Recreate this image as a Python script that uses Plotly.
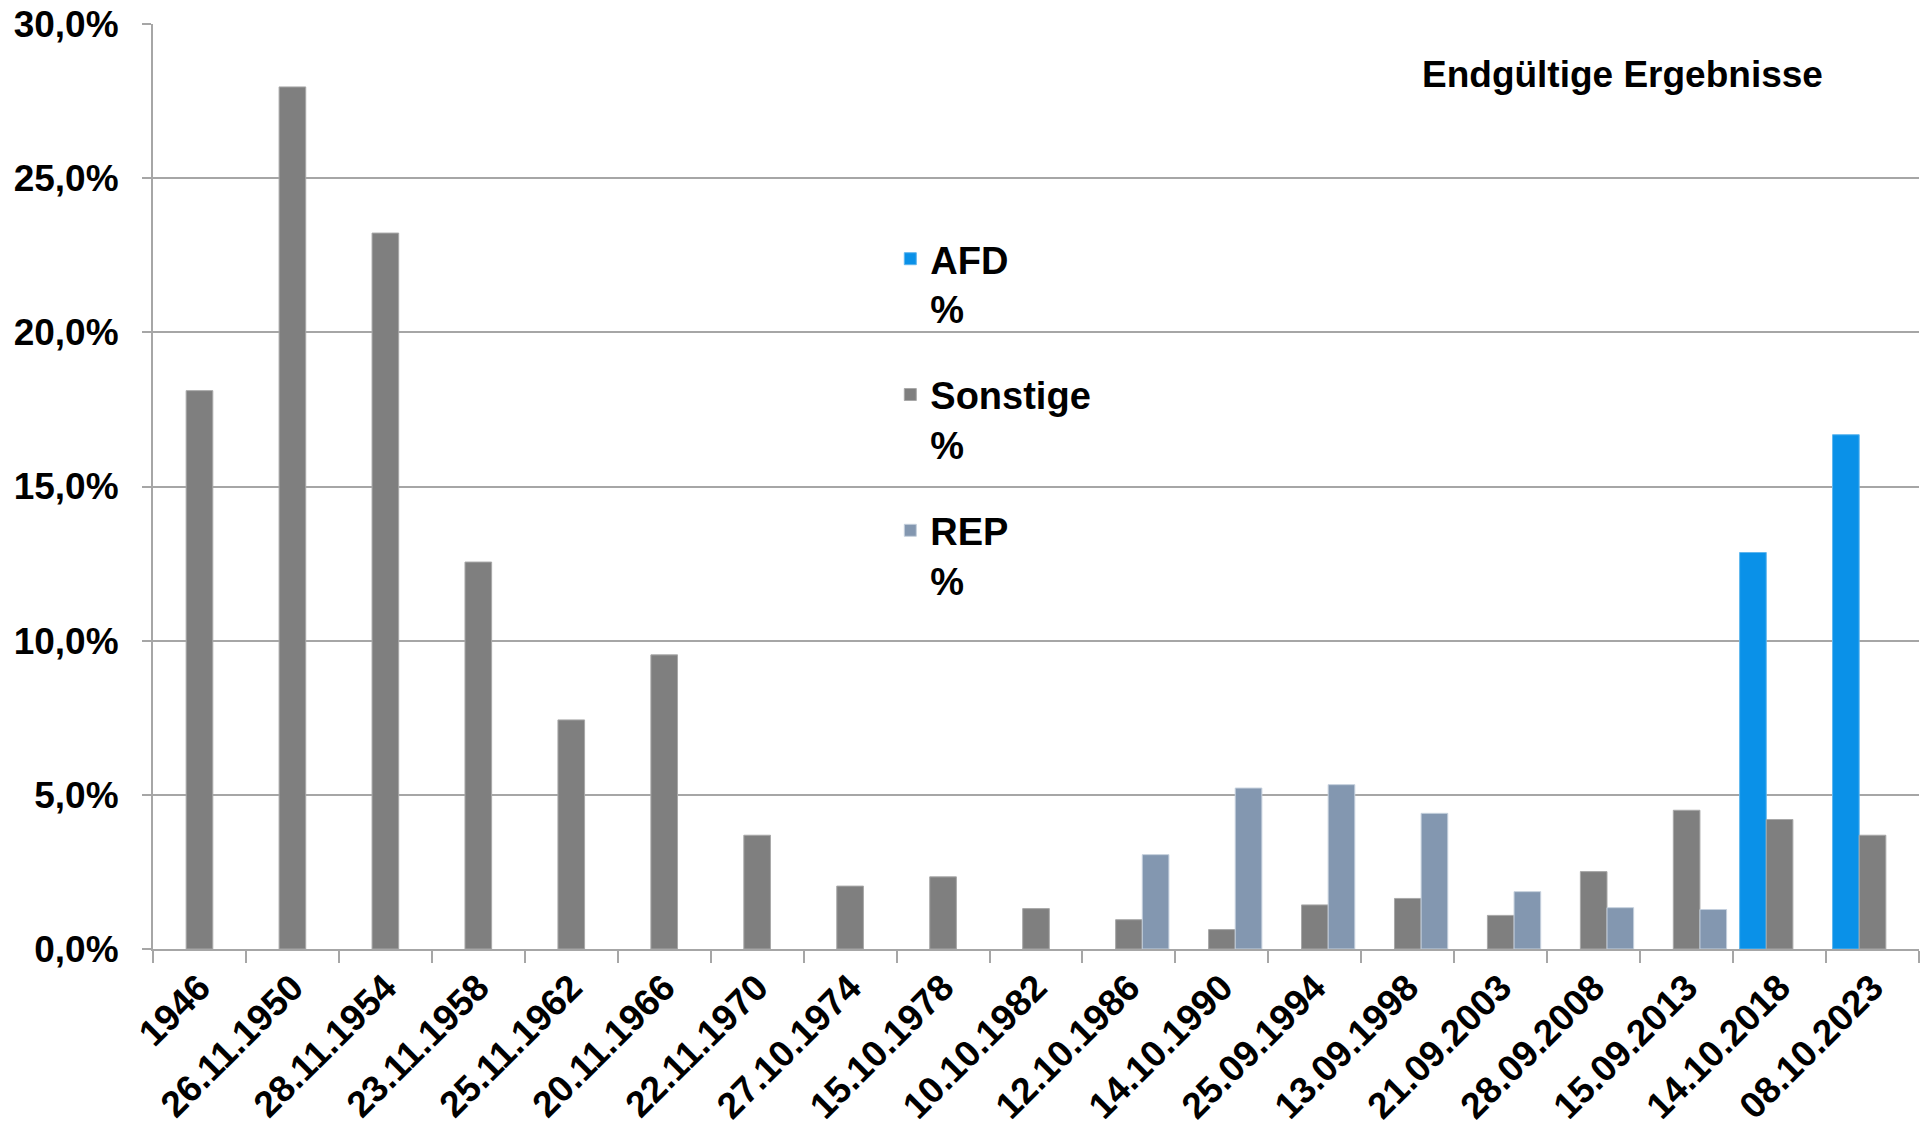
import plotly.graph_objects as go

categories = ["1946", "26.11.1950", "28.11.1954", "23.11.1958", "25.11.1962", "20.11.1966",
              "22.11.1970", "27.10.1974", "15.10.1978", "10.10.1982", "12.10.1986", "14.10.1990",
              "25.09.1994", "13.09.1998", "21.09.2003", "28.09.2008", "15.09.2013", "14.10.2018",
              "08.10.2023"]

afd = [None] * 17 + [12.86, 16.68]
sonstige = [18.11, 27.96, 23.22, 12.55, 7.43, 9.54, 3.69, 2.04, 2.34, 1.31, 0.95, 0.63,
            1.43, 1.64, 1.09, 2.51, 4.50, 4.20, 3.69]
rep = [None] * 10 + [3.06, 5.22, 5.33, 4.40, 1.86, 1.34, 1.28, None, None]

y_ticks = [0, 5, 10, 15, 20, 25, 30]
y_tick_labels = ["0,0%", "5,0%", "10,0%", "15,0%", "20,0%", "25,0%", "30,0%"]

series = [
    ("AFD<br>%", afd, "#0A91E8", "#5FB6EE"),
    ("Sonstige<br>%", sonstige, "#7F7F7F", "#A8A8A8"),
    ("REP<br>%", rep, "#8397B0", "#C5D0DD"),
]

FONT = "Liberation Sans, Arial, sans-serif"

fig = go.Figure()
for i, (name, vals, col, lcol) in enumerate(series):
    fig.add_trace(go.Bar(
        x=categories, y=vals, name=name,
        marker=dict(color=col, line=dict(color=lcol, width=1)),
        legendgroup=f"g{i}",
    ))

fig.update_layout(
    width=1925, height=1130,
    margin=dict(l=153, r=6, t=24, b=181, autoexpand=False),
    paper_bgcolor="white", plot_bgcolor="white",
    barmode="group", bargap=0.14, bargroupgap=0,
    font=dict(family=FONT, color="black", size=37, weight="bold"),
    showlegend=True,
    legend=dict(
        x=0.4175, y=0.78, xanchor="left", yanchor="top",
        valign="top", tracegroupgap=34, traceorder="grouped",
        font=dict(family=FONT, size=38, color="black", weight="bold"),
        bgcolor="rgba(0,0,0,0)",
    ),
    xaxis=dict(
        type="category", tickangle=-45, automargin=False,
        tickfont=dict(family=FONT, size=37, color="black", weight="bold"),
        showline=True, linecolor="#A6A6A6", linewidth=2,
        ticks="outside", tickson="boundaries", ticklen=12, tickcolor="#A6A6A6", tickwidth=2,
        showgrid=False, ticklabeloverflow="allow",
    ),
    yaxis=dict(
        range=[0, 30.001], tickvals=y_ticks, ticktext=y_tick_labels, automargin=False,
        tickfont=dict(family=FONT, size=37, color="black", weight="bold"),
        showline=True, linecolor="#A6A6A6", linewidth=2,
        ticks="outside", ticklen=9, tickcolor="#A6A6A6", tickwidth=2,
        showgrid=True, gridcolor="#A6A6A6", gridwidth=1.5,
        zeroline=False, ticklabelstandoff=16, ticklabeloverflow="allow",
    ),
    annotations=[dict(
        text="Endgültige Ergebnisse", xref="paper", yref="paper",
        x=0.832, y=0.945, xanchor="center", yanchor="middle", showarrow=False,
        font=dict(family=FONT, size=37, color="black", weight="bold"),
    )],
)

fig.write_html("out.html", config={"displayModeBar": False},
               post_script="document.body.style.margin='0';")
